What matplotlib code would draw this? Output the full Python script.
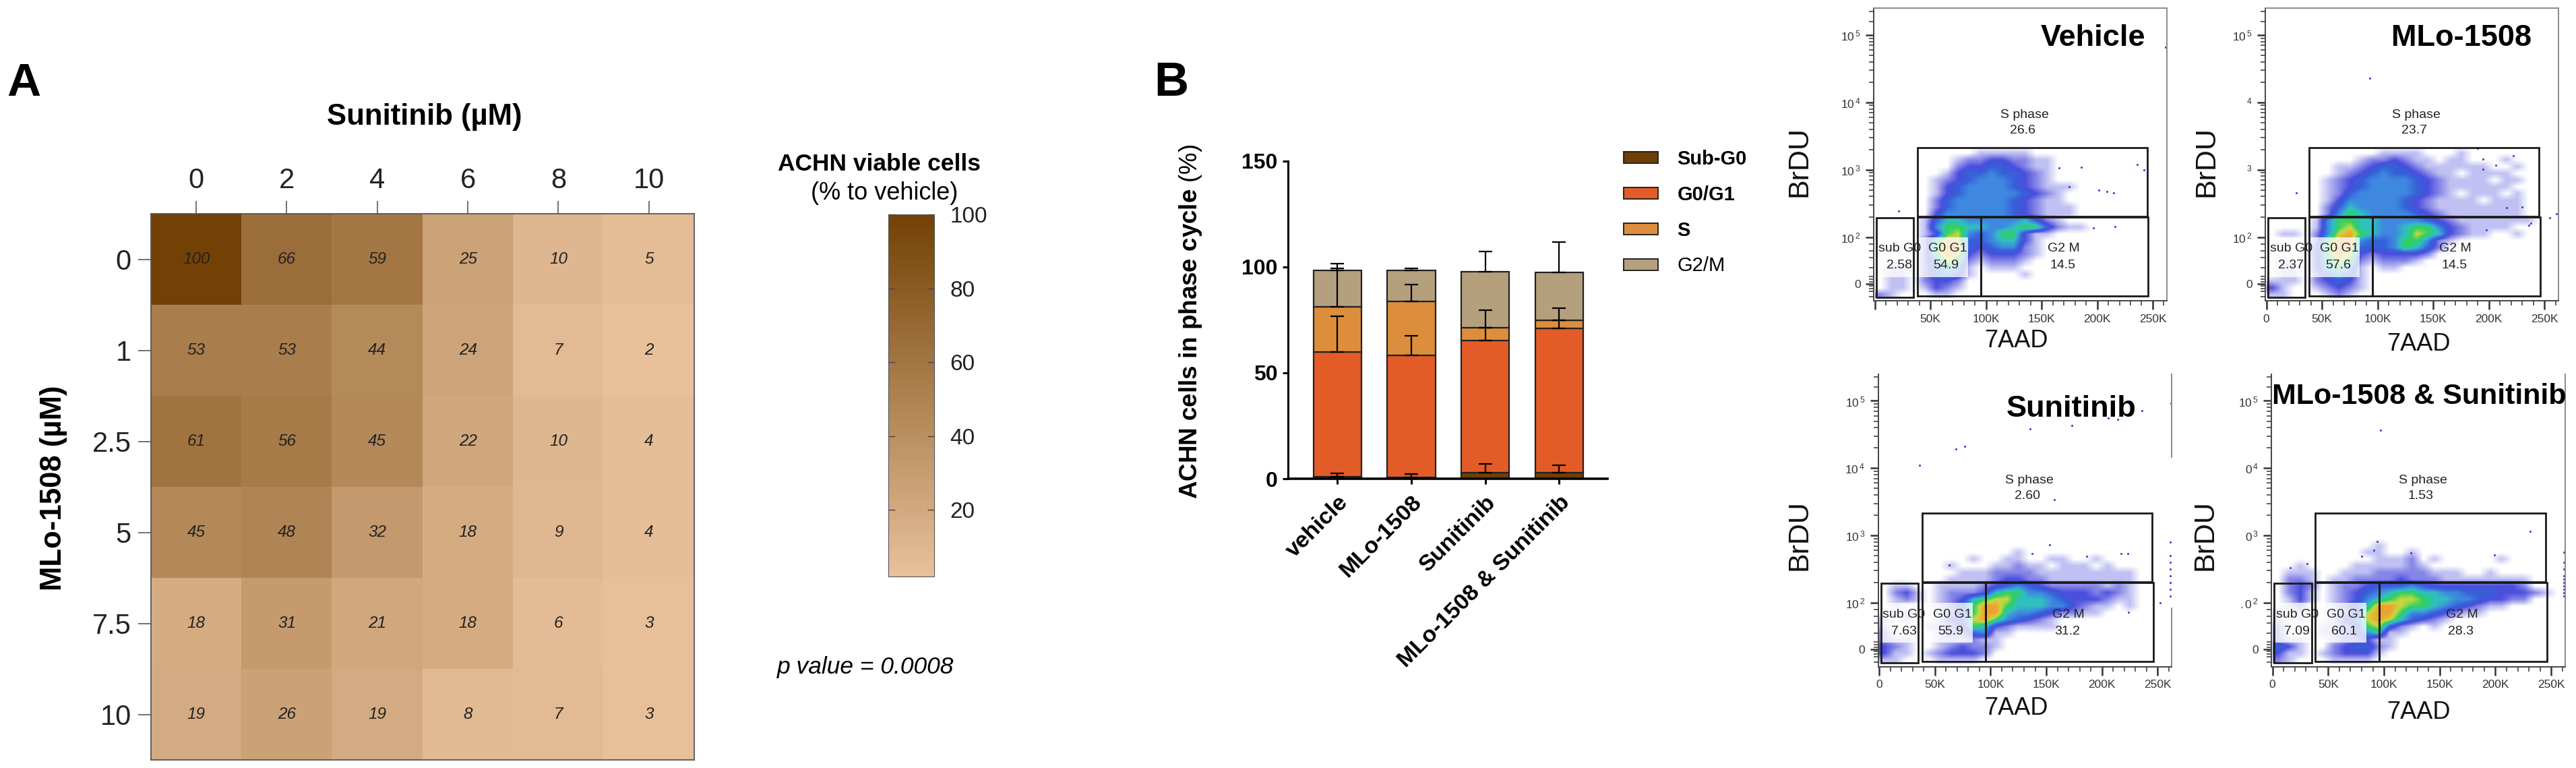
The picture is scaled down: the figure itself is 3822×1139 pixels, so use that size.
import numpy as np
import matplotlib
matplotlib.use('Agg')
from matplotlib import pyplot as plt
from matplotlib.colors import LinearSegmentedColormap
from matplotlib.patches import Rectangle, Patch

plt.rcParams['font.family'] = ['Liberation Sans', 'DejaVu Sans']
plt.rcParams['mathtext.fontset'] = 'custom'
plt.rcParams['mathtext.rm'] = 'Liberation Sans'
plt.rcParams['mathtext.bf'] = 'Liberation Sans:bold'
plt.rcParams['mathtext.it'] = 'Liberation Sans:italic'

W, H = 3822, 1139

# panel A
sunitinib = ['0', '2', '4', '6', '8', '10']
mlo = ['0', '1', '2.5', '5', '7.5', '10']
viability = [
    [100, 66, 59, 25, 10, 5],
    [53, 53, 44, 24, 7, 2],
    [61, 56, 45, 22, 10, 4],
    [45, 48, 32, 18, 9, 4],
    [18, 31, 21, 18, 6, 3],
    [19, 26, 19, 8, 7, 3],
]
cbar_ticks = [20, 40, 60, 80, 100]

# panel B
treatments = ['vehicle', 'MLo-1508', 'Sunitinib', 'MLo-1508 & Sunitinib']
phases = ['Sub-G0', 'G0/G1', 'S', 'G2/M']
phase_colors = ['#6f3f07', '#e35c28', '#dd8e3c', '#b5a07e']
phase_values = [
    [0.8, 0.6, 2.9, 2.9],
    [59.2, 57.8, 62.3, 68.0],
    [21.3, 25.4, 6.1, 3.9],
    [17.2, 14.5, 26.6, 22.7],
]
phase_errors = [
    [1.7, 1.6, 4.0, 3.4],
    [16.8, 9.2, 6.1, 3.9],
    [18.0, 8.0, 8.4, 5.9],
    [3.1, 1.0, 9.4, 14.3],
]

# flow panels: hand read density, one string per 0.1 decade from 3.4 down to 1.1,
# one digit per 10K of 7AAD, missing digits at the end are empty
vehicle_density = [
    '', '00000000011111', '0000000122332211', '0000000233443211',
    '0000001344544321', '0000012345554321', '000001345555432111',
    '00000134555554321', '00000245555543211', '000002455555432111',
    '000003555555432111', '00001466555556421', '0000157766556774211',
    '00001378545773110', '000026984456631', '000027994345521',
    '000027983233321', '000025872122210', '011024651011100',
    '01102454100001', '0110233200', '0110132100', '2100011',
]
mlo_density = [
    '', '000000000011110001', '0000000012232110110001', '00000011234432111111001',
    '0000001234544321101111', '00000123455554321111011', '0000012345555432111111',
    '00000124555554321011101', '00000135555543211110111', '00000246555543211111111',
    '00000257655554321111111', '000015776655554321111111', '0000157866556775321111',
    '01102589765568763211001', '00002799544577521', '0000379944457642',
    '000037983233332', '010036872122210', '011036751011',
    '011024541', '1110234310', '3100123210', '1100012100',
]
sunitinib_density = [
    '', '', '', '', '', '', '000000000000100000000',
    '00000000100110011001', '000000100011211011101', '00000001112222111111111',
    '00000011112332211111111', '01100111123454322222121', '02310122236775543332321',
    '01210123678866654333211', '01000124799766655321101', '00100123799655432211',
    '10100134897543210', '1000112376321111', '2000012245110',
    '2110011121100', '3210012322100', '3110123332000', '1100011110',
]
combo_density = [
    '', '', '', '', '', '000000000100', '0000000011001',
    '000000000111201000001', '00100001111121000', '01110011122222111001',
    '02210112222322211111111', '02320122344454333333332', '0231012345677665544433321',
    '01310123567887665543322', '01200124699877654321100', '10100123899755432110',
    '1010013489864321', '2000112378421010', '2000112356110',
    '2110012231100', '4310023442100', '3110123331000', '2100011110',
]

# single events (7AAD in K, BrDU in decades)
vehicle_x = [261.6, 236, 242, 185.6, 166, 201.6, 215, 209, 175, 216, 196.5, 21.4]
vehicle_y = [4.82, 3.08, 3.0, 3.04, 3.03, 2.70, 2.66, 2.68, 2.75, 2.16, 2.14, 2.39]
mlo_x = [93, 27, 222, 195, 206.5, 195, 190, 230, 216, 254.6, 261, 236, 238, 197.6]
mlo_y = [4.36, 2.66, 3.21, 3.16, 3.07, 3.01, 3.32, 2.45, 2.44, 2.29, 2.35, 2.18, 2.21, 2.11]
sunitinib_x = [36, 68.6, 77, 135.6, 172.8, 205.8, 214, 235.6, 261.6, 157.4, 153, 137, 186,
               217, 223, 63, 252, 224, 261.5, 261.5, 261.5, 261.5, 261.5, 261.5, 261.5, 261.5]
sunitinib_y = [4.04, 4.28, 4.32, 4.58, 4.63, 4.74, 4.72, 4.85, 4.96, 3.53, 2.86, 2.73, 2.69,
               2.73, 2.73, 2.56, 2.0, 1.86, 2.9, 2.7, 2.6, 2.5, 2.4, 2.3, 2.2, 2.1]
combo_x = [97, 231, 94, 124, 199, 91, 80, 16, 31, 261.5, 261.5, 261.5, 261.5, 261.5, 261.5,
           261.5, 261.5, 261.5, 261.5]
combo_y = [4.56, 3.06, 2.91, 2.74, 2.71, 2.78, 2.69, 2.52, 2.58, 2.75, 2.6, 2.5, 2.4, 2.35,
           2.3, 2.25, 2.2, 2.15, 2.1]

gate_names = ['S phase', 'sub G0', 'G0 G1', 'G2 M']
panel_titles = ['Vehicle', 'MLo-1508', 'Sunitinib', 'MLo-1508 & Sunitinib']
gate_percent = [
    ['26.6', '2.58', '54.9', '14.5'],
    ['23.7', '2.37', '57.6', '14.5'],
    ['2.60', '7.63', '55.9', '31.2'],
    ['1.53', '7.09', '60.1', '28.3'],
]
x_ticks = [0, 50, 100, 150, 200, 250]
x_tick_labels = [
    ['', '50K', '100K', '150K', '200K', '250K'],
    ['0', '50K', '100K', '150K', '200K', '250K'],
    ['0', '50K', '100K', '150K', '200K', '250K'],
    ['0', '50K', '100K', '150K', '200K', '250K'],
]
y_ticks = [1.306, 2, 3, 4, 5]
y_tick_labels = [
    ['0', r'$10^{\,2}$', r'$10^{\,3}$', r'$10^{\,4}$', r'$10^{\,5}$'],
    ['0', r'$10^{\,2}$', r'$^{3}$', r'$^{4}$', r'$10^{\,5}$'],
    ['0', r'$10^{\,2}$', r'$10^{\,3}$', r'$10^{\,4}$', r'$10^{\,5}$'],
    ['0', r'$.0^{\,2}$', r'$0^{\,3}$', r'$0^{\,4}$', r'$10^{\,5}$'],
]

heat_cmap = LinearSegmentedColormap.from_list('brown', ['#e8c19b', '#734105'])
flow_cmap = LinearSegmentedColormap.from_list('flow', [
    '#ffffff', '#c0c0f2', '#8585e8', '#4a4fdc', '#3560d8', '#3f88e0',
    '#2fc0c0', '#30d060', '#c8d840', '#f0a030',
])


def axes_px(fig, left, top, right, bottom):
    return fig.add_axes([left / W, 1 - bottom / H, (right - left) / W, (bottom - top) / H])


def text_px(fig, x, y, s, **kwargs):
    kwargs.setdefault('ha', 'center')
    kwargs.setdefault('va', 'center')
    return fig.text(x / W, 1 - y / H, s, **kwargs)


def plot_heatmap(fig):
    ax = axes_px(fig, 224, 317, 1030, 1127)
    values = np.array(viability)
    mesh = ax.imshow(values, cmap=heat_cmap, vmin=2, vmax=100, aspect='auto')
    for row in range(values.shape[0]):
        for col in range(values.shape[1]):
            ax.text(col, row, str(values[row, col]), ha='center', va='center',
                    fontsize=17.5, style='italic', color='#222222')
    ax.xaxis.tick_top()
    ax.set_xticks(range(len(sunitinib)), sunitinib)
    ax.set_yticks(range(len(mlo)), mlo)
    ax.tick_params(length=14, width=1.3, color='#666666', labelsize=30, pad=7, labelcolor='#222222')
    for spine in ax.spines.values():
        spine.set_color('#555555')
        spine.set_linewidth(1.3)

    cax = axes_px(fig, 1318, 318, 1386, 855)
    cbar = fig.colorbar(mesh, cax=cax, ticks=cbar_ticks)
    cbar.outline.set_edgecolor('#555555')
    cbar.ax.tick_params(direction='in', left=True, right=True, length=7, width=1,
                        color='#444444', labelsize=24, pad=17, labelcolor='#222222')

    text_px(fig, 630, 174, 'Sunitinib (µM)', fontsize=31.5, fontweight='bold')
    text_px(fig, 80, 724, 'MLo-1508 (µM)', fontsize=31.5, fontweight='bold', rotation=90)
    text_px(fig, 1304, 243, 'ACHN viable cells', fontsize=25.5, fontweight='bold')
    text_px(fig, 1312, 287, '(% to vehicle)', fontsize=26)
    text_px(fig, 1284, 990, 'p value = 0.0008', fontsize=25.5, style='italic')
    text_px(fig, 35, 124, 'A', fontsize=50, fontweight='bold')


def plot_stacked(fig):
    ax = axes_px(fig, 1911, 239, 2385, 710)
    positions = np.arange(len(treatments))
    bottom = np.zeros(len(treatments))
    for name, color, values, errors in zip(phases, phase_colors, phase_values, phase_errors):
        ax.bar(positions, values, 0.65, bottom=bottom, color=color, edgecolor='#222222',
               linewidth=1.6, label=name, zorder=2)
        bottom = bottom + np.array(values)
        ax.errorbar(positions, bottom, yerr=[np.zeros(len(errors)), errors], fmt='none',
                    ecolor='black', elinewidth=1.6, capsize=7, capthick=1.6, zorder=3)
    ax.set_xlim(-0.67, 3.654)
    ax.set_ylim(0, 150)
    ax.set_yticks([0, 50, 100, 150])
    ax.set_xticks(positions, treatments, rotation=45, ha='right', rotation_mode='anchor',
                  fontsize=24.5, fontweight='bold')
    for label in ax.get_yticklabels():
        label.set_fontsize(23)
        label.set_fontweight('bold')
    ax.tick_params(axis='both', length=6, width=2.2, pad=5)
    ax.tick_params(axis='x', pad=8)
    ax.spines[['top', 'right']].set_visible(False)
    ax.spines['left'].set_linewidth(2.2)
    ax.spines['bottom'].set_linewidth(2.6)

    handles = [Patch(facecolor=c, edgecolor='#222222', linewidth=1.4) for c in phase_colors]
    legend = ax.legend(handles, phases, loc='upper left', bbox_to_anchor=(2409 / W, 1 - 222 / H),
                       bbox_transform=fig.transFigure, frameon=False, fontsize=21, borderpad=0,
                       borderaxespad=0, handlelength=1.75, handleheight=0.52, handletextpad=0.97,
                       labelspacing=0.85)
    for text, name in zip(legend.get_texts(), phases):
        if name != 'G2/M':
            text.set_fontweight('bold')

    text_px(fig, 1766, 477, r'$\mathbf{ACHN\ cells\ in\ phase\ cycle}$ (%)',
            fontsize=26.5, rotation=90)
    text_px(fig, 1738, 124, 'B', fontsize=51, fontweight='bold')


def plot_flow(fig, index, rect, density, points_x, points_y):
    ax = axes_px(fig, *rect)
    grid = np.array([[int(c) for c in row.ljust(26, '0')] for row in density])
    ax.imshow(grid, cmap=flow_cmap, vmin=0, vmax=9, aspect='auto', interpolation='bilinear',
              extent=(0, 260, 1.1, 3.4), origin='upper', zorder=1)
    ax.scatter(points_x, points_y, s=5, color='#3c3cd8', linewidths=0, zorder=1)
    ax.add_patch(Rectangle((1, 1.41), 83, 0.59, facecolor='white', edgecolor='none', alpha=0.78, zorder=2))

    # gates
    for x0, x1, y0, y1 in [(38.6, 245, 2.31, 3.33), (1.6, 35, 1.11, 2.29),
                           (38.6, 95.6, 1.13, 2.3), (95.6, 246, 1.13, 2.3)]:
        ax.add_patch(Rectangle((x0, y0), x1 - x0, y1 - y0, fill=False, edgecolor='#1a1a1a',
                               linewidth=2, zorder=3))

    label_x = [134.9, 22.3, 65.8, 169.8]
    label_y = [3.816, 1.83, 1.83, 1.83]
    value_x = [133, 22, 64.3, 169]
    value_y = [3.587, 1.58, 1.58, 1.58]
    for i, name in enumerate(gate_names):
        ax.text(label_x[i], label_y[i], name, ha='center', va='center', fontsize=14,
                color='#222222', zorder=4)
        ax.text(value_x[i], value_y[i], gate_percent[index][i], ha='center', va='center',
                fontsize=14, color='#222222', zorder=4)

    ax.set_xlim(-1, 262.5)
    ax.set_ylim(1.05, 5.40)
    ax.set_xticks(x_ticks, x_tick_labels[index])
    ax.set_xticks(range(10, 261, 10), minor=True)
    ax.set_yticks(y_ticks, y_tick_labels[index])
    decades = [k + np.log10(m) for k in range(2, 5) for m in range(2, 10)]
    ax.set_yticks(decades + [1.12, 1.2, 1.24, 1.28, 1.34, 1.38, 1.42, 1.55, 1.7, 1.8, 1.9, 5.2, 5.35], minor=True)
    ax.tick_params(axis='both', which='major', length=9, width=1.8, color='#333333', labelsize=12.5,
                   labelcolor='#333333', pad=5)
    ax.tick_params(axis='both', which='minor', length=5, width=1.2, color='#444444')
    for spine in ax.spines.values():
        spine.set_color('#8a8a8a')
        spine.set_linewidth(1.4)
    ax.spines['left'].set_color('#444444')
    ax.spines['bottom'].set_color('#444444')
    if index >= 2:
        ax.spines['top'].set_visible(False)
    if index == 2:
        ax.spines['right'].set_visible(False)
        ax.plot([262.5, 262.5], [1.05, 1.92], color='#8a8a8a', linewidth=1.4, clip_on=False)
        ax.plot([262.5, 262.5], [4.16, 5.40], color='#8a8a8a', linewidth=1.4, clip_on=False)


def main():
    fig = plt.figure(figsize=(W / 100, H / 100), dpi=100)
    plot_heatmap(fig)
    plot_stacked(fig)

    rects = [(2780, 12, 3214.6, 446.5), (3361, 12, 3795.8, 446.5),
             (2786.5, 554.5, 3222, 989), (3370, 554.5, 3805.8, 989)]
    densities = [vehicle_density, mlo_density, sunitinib_density, combo_density]
    points = [(vehicle_x, vehicle_y), (mlo_x, mlo_y), (sunitinib_x, sunitinib_y), (combo_x, combo_y)]
    for i, rect in enumerate(rects):
        plot_flow(fig, i, rect, densities[i], points[i][0], points[i][1])

    title_pos = [(3105, 57), (3652, 57), (3073, 606), (3589, 588)]
    title_size = [32.5, 32.5, 32.5, 31]
    brdu_pos = [(2669, 240), (3273, 240), (2669, 793), (3272, 793)]
    aad_pos = [(2991, 505), (3588, 510), (2991, 1050), (3588, 1056)]
    for title, size, t, b, a in zip(panel_titles, title_size, title_pos, brdu_pos, aad_pos):
        text_px(fig, t[0], t[1], title, fontsize=size, fontweight='bold', zorder=10)
        text_px(fig, b[0], b[1], 'BrDU', fontsize=31, rotation=90, color='#111111')
        text_px(fig, a[0], a[1], '7AAD', fontsize=26, color='#111111')

    fig.savefig('out.png', dpi=100)


main()
